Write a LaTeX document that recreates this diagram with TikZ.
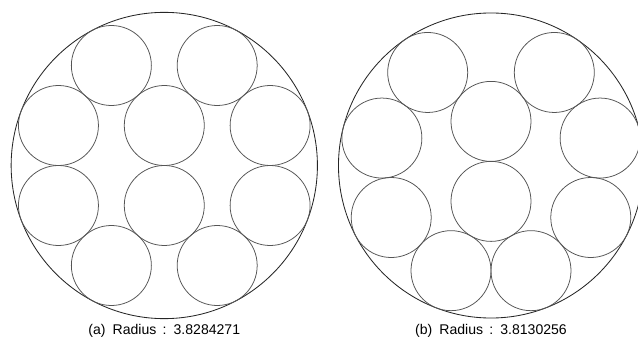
\documentclass[tikz,border=0pt]{standalone}
\usepackage{fontspec}
\setmainfont{Liberation Sans}
\usepackage{xcolor}
\usetikzlibrary{calc}
\definecolor{rimink}{HTML}{262626}
\definecolor{coinink}{HTML}{555555}

\begin{document}
\begin{tikzpicture}[
    bigring/.style={draw=rimink, line width=0.6pt},
    coin/.style={draw=coinink, line width=0.55pt},
    caption/.style={anchor=base, inner sep=0pt, font=\fontsize{10}{12}\selectfont}]
  \useasboundingbox (0,0) rectangle (15.95,8.45);
  \clip (0,0) rectangle (15.95,8.45);
  \coordinate (ca) at (4.107,4.3125);
  \coordinate (cb) at (12.275,4.3125);
  % (a) ten unit circles, container radius 1+2sqrt2
  \draw[bigring] (ca) circle (3.8284271);
  \foreach \dx/\dy in {%
    0/1, 0/-1, 2.6458/1, -2.6458/1, 2.6458/-1, -2.6458/-1,
    1.3229/2.5, -1.3229/2.5, 1.3229/-2.5, -1.3229/-2.5}{
    \draw[coin] ($(ca)+(\dx,\dy)$) circle (1);
  }
  % (b) best known packing, ring of eight plus an inner pair
  \draw[bigring] (cb) circle (3.8130256);
  \foreach \dx/\dy in {%
    1/-2.6293, -1/-2.6293, 2.4945/-1.3002, -2.4945/-1.3002,
    2.7281/0.6861, -2.7281/0.6861, 1.5827/2.3256, -1.5827/2.3256,
    0/-0.8972, 0/1.1028}{
    \draw[coin] ($(cb)+(\dx,\dy)$) circle (1);
  }
  \node[caption] (capa) at ($(ca)+(0,-4.23)$)
    {(a)\hspace{0.5em}Radius\hspace{0.45em}:\hspace{0.5em}3.8284271};
  \node[caption] (capb) at ($(cb)+(0,-4.23)$)
    {(b)\hspace{0.5em}Radius\hspace{0.45em}:\hspace{0.5em}3.8130256};
\end{tikzpicture}
\end{document}
